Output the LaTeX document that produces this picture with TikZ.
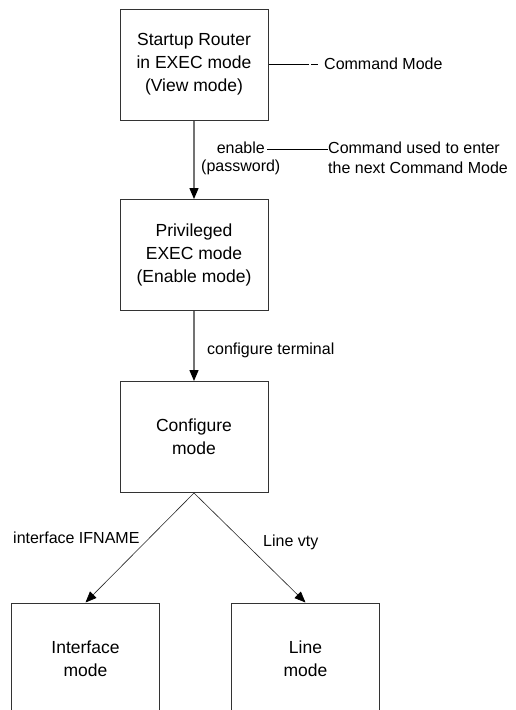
\documentclass[tikz,border=0pt]{standalone}
\usepackage{fontspec}
\setmainfont{Liberation Sans}
\usetikzlibrary{arrows.meta}
\tikzset{
  modebox/.style={draw=black!80, line width=1pt, minimum width=148pt, minimum height=111pt, inner sep=0pt, align=center, font=\fontsize{17.5}{23}\selectfont},
  lbl/.style={inner sep=0pt, font=\fontsize{16}{20}\selectfont},
  vflow/.style={draw=black!55, line width=1.3pt, -{Triangle[width=9pt,length=11pt,color=black]}},
  dflow/.style={draw=black!85, line width=0.6pt, -{Triangle[width=9pt,length=11pt,color=black]}},
  note/.style={draw=black, line width=0.7pt}
}
\begin{document}
\begin{tikzpicture}[x=1pt,y=-1pt]
\clip (0,0) rectangle (516,710);
\fill[white] (0,0) rectangle (516,710);
\node[modebox] (s) at (194,64.5) {Startup Router\\in EXEC mode\\(View mode)};
\node[modebox] (p) at (194,255) {Privileged\\EXEC mode\\(Enable mode)};
\node[modebox] (c) at (194,437) {Configure\\mode};
\node[modebox] (i) at (85.5,658.5) {Interface\\mode};
\node[modebox] (l) at (305.5,658.5) {Line\\mode};
\draw[vflow] (s) -- (p);
\draw[vflow] (p) -- (c);
\draw[dflow] (c.south) -- (i.north);
\draw[dflow] (c.south) -- (l.north);
% Command Mode note
\coordinate (cm1) at (268,64);
\coordinate (cm2) at (309,64);
\coordinate (cm3) at (311,64);
\coordinate (cm4) at (318,64);
\node[lbl, anchor=west] (cmt) at (324,64) {Command Mode};
\draw[note] (s.east |- cm1) -- (cm2);
\draw[note] (cm3) -- (cm4);
% enable label
\node[lbl, anchor=east] (en) at (265,148) {enable};
\node[lbl, anchor=west] (pw) at (201,167) {(password)};
\node[lbl, anchor=west, align=left] (cu) at (328,157.5) {Command used to enter\\the next Command Mode};
\draw[note] (en.east |- 0,149) ++(2,0) -- (cu.west |- 0,149);
\node[lbl, anchor=west] (ct) at (207,350) {configure terminal};
\node[lbl, anchor=west] (ifn) at (13,538) {interface IFNAME};
\node[lbl, anchor=west] (lv) at (263,542) {Line vty};
\end{tikzpicture}
\end{document}
